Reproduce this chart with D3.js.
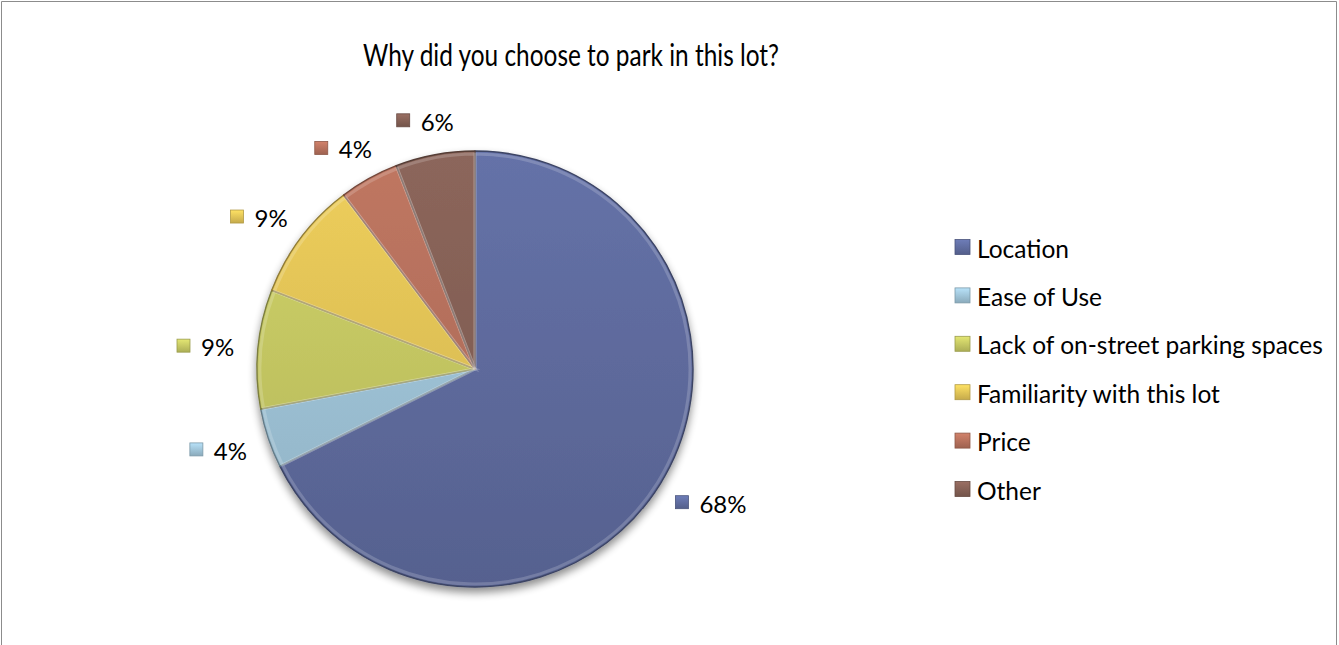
<!DOCTYPE html>
<html lang="en">
<head>
    <meta charset="UTF-8">
    <title>Why did you choose to park in this lot?</title>
    <script src="https://cdnjs.cloudflare.com/ajax/libs/d3/7.8.5/d3.min.js"></script>
    <style>
        body {
            margin: 0;
            background: #fff;
            font-family: Lato, 'Open Sans', Arial, sans-serif;
            overflow: hidden;
        }
        .title { font-size: 31px; fill: #000; }
        .legend text { font-size: 24.5px; fill: #000; }
        .label text { font-size: 24px; fill: #000; }
    </style>
</head>
<body>
<div id="chart"></div>
<script>
    const categories = ["Location", "Ease of Use", "Lack of on-street parking spaces", "Familiarity with this lot", "Price", "Other"];
    const counts = [46, 3, 6, 6, 3, 4];
    const colors = ["#6370A5", "#A5CBE0", "#CDD067", "#EBCB5A", "#BD7560", "#8A6459"];
    const title = "Why did you choose to park in this lot?";

    (function() {
        const width = 1339, height = 645;
        const cx = 475, cy = 369, radius = 218;
        const total = d3.sum(counts);
        const pct = d3.format(".0%");

        const svg = d3.select("#chart").append("svg")
            .attr("width", width)
            .attr("height", height);

        const defs = svg.append("defs");

        // soft shadow under the pie
        const shadow = defs.append("filter").attr("id", "shadow")
            .attr("x", "-20%").attr("y", "-20%").attr("width", "140%").attr("height", "140%");
        shadow.append("feGaussianBlur").attr("in", "SourceAlpha").attr("stdDeviation", 4).attr("result", "blur");
        shadow.append("feOffset").attr("in", "blur").attr("dy", 5).attr("result", "off");
        shadow.append("feComponentTransfer").attr("in", "off").attr("result", "soft")
            .append("feFuncA").attr("type", "linear").attr("slope", 0.45);
        const merge = shadow.append("feMerge");
        merge.append("feMergeNode").attr("in", "soft");
        merge.append("feMergeNode").attr("in", "SourceGraphic");

        // vertical shading per slice colour
        colors.forEach((c, i) => {
            const g = defs.append("linearGradient").attr("id", "grad" + i)
                .attr("gradientUnits", "userSpaceOnUse")
                .attr("x1", 0).attr("y1", -radius).attr("x2", 0).attr("y2", radius);
            g.append("stop").attr("offset", "0%").attr("stop-color", d3.color(c).brighter(0.05));
            g.append("stop").attr("offset", "100%").attr("stop-color", d3.color(c).darker(0.4));
            const k = defs.append("linearGradient").attr("id", "key" + i)
                .attr("x1", 0).attr("y1", 0).attr("x2", 0).attr("y2", 1);
            k.append("stop").attr("offset", "0%").attr("stop-color", d3.color(c).brighter(0.3));
            k.append("stop").attr("offset", "100%").attr("stop-color", d3.color(c).darker(0.5));
        });

        // chart frame
        svg.append("path")
            .attr("d", `M1.5,${height} V1.5 H${width - 2.5} V${height}`)
            .attr("fill", "none")
            .attr("stroke", "#8c8c8c")
            .attr("stroke-width", 1);

        svg.append("text")
            .attr("class", "title")
            .attr("x", 571)
            .attr("y", 66)
            .attr("text-anchor", "middle")
            .attr("textLength", 416)
            .attr("lengthAdjust", "spacingAndGlyphs")
            .text(title);

        const pie = d3.pie().sort(null).value(d => d);
        const arcs = pie(counts);
        const arc = d3.arc().innerRadius(0).outerRadius(radius);
        const bevel = d3.arc().innerRadius(0).outerRadius(radius - 3);

        const g = svg.append("g").attr("transform", `translate(${cx},${cy})`);

        const slices = g.append("g").attr("filter", "url(#shadow)");
        slices.selectAll("path.slice")
            .data(arcs)
            .join("path")
            .attr("class", "slice")
            .attr("d", arc)
            .attr("fill", (d, i) => `url(#grad${i})`)
            .attr("stroke", (d, i) => d3.color(colors[i]).darker(1.4))
            .attr("stroke-width", 1.4)
            .attr("stroke-linejoin", "round");

        // bevel highlight
        g.append("g").selectAll("path")
            .data(arcs)
            .join("path")
            .attr("d", bevel)
            .attr("fill", "none")
            .attr("stroke", "#fff")
            .attr("stroke-opacity", 0.18)
            .attr("stroke-width", 3);

        // data labels, outside end
        const keySize = 13, gap = 11, boxH = 22;
        const labels = svg.append("g").attr("class", "label");
        arcs.forEach((d, i) => {
            const a = (d.startAngle + d.endAngle) / 2;
            const s = Math.sin(a), c = Math.cos(a);
            const r = radius + 24;
            const lab = labels.append("g");
            const t = lab.append("text")
                .attr("dominant-baseline", "central")
                .text(pct(d.data / total));
            const w = keySize + gap + t.node().getComputedTextLength();
            const mx = cx + r * s + s * w / 2;
            const my = cy - r * c - c * boxH / 2;
            const x0 = mx - w / 2;
            lab.append("rect")
                .attr("x", x0).attr("y", my - keySize / 2)
                .attr("width", keySize).attr("height", keySize)
                .attr("fill", `url(#key${i})`)
                .attr("stroke", d3.color(colors[i]).darker(0.8))
                .attr("stroke-width", 0.8);
            t.attr("x", x0 + keySize + gap).attr("y", my + 1);
        });

        // legend
        const ly = d3.scalePoint().domain(categories).range([247, 489]);
        const legend = svg.append("g").attr("class", "legend");
        const items = legend.selectAll("g")
            .data(categories)
            .join("g")
            .attr("transform", d => `translate(955,${ly(d)})`);
        items.append("rect")
            .attr("x", 0).attr("y", -7.5)
            .attr("width", 15).attr("height", 15)
            .attr("fill", (d, i) => `url(#key${i})`)
            .attr("stroke", (d, i) => d3.color(colors[i]).darker(0.8))
            .attr("stroke-width", 0.8);
        items.append("text")
            .attr("x", 22)
            .attr("y", 1)
            .attr("dominant-baseline", "central")
            .text(d => d);
    })();
</script>
</body>
</html>
